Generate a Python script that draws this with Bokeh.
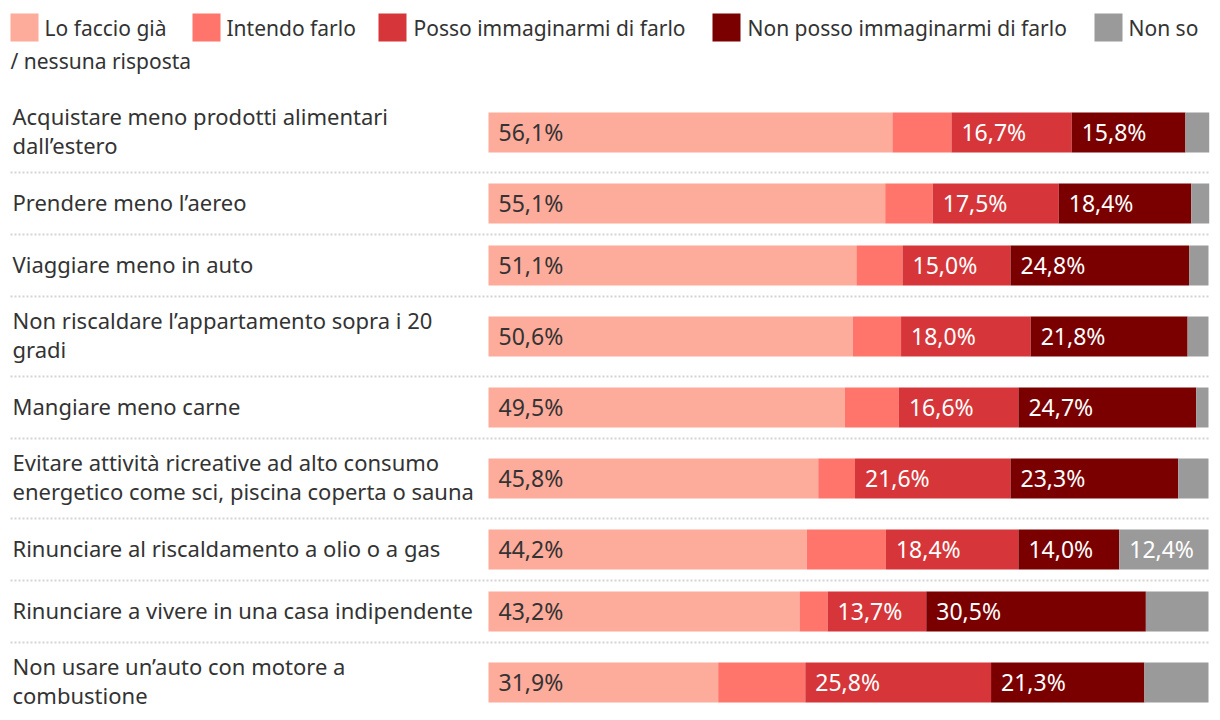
from bokeh.plotting import figure
from bokeh.models import Range1d, ColumnDataSource
from bokeh.core.properties import value
from bokeh.embed import file_html
from bokeh.resources import INLINE

# ---------------- data ----------------
categories = [
    "Acquistare meno prodotti alimentari\ndall\u2019estero",
    "Prendere meno l\u2019aereo",
    "Viaggiare meno in auto",
    "Non riscaldare l\u2019appartamento sopra i 20\ngradi",
    "Mangiare meno carne",
    "Evitare attivit\u00e0 ricreative ad alto consumo\nenergetico come sci, piscina coperta o sauna",
    "Rinunciare al riscaldamento a olio o a gas",
    "Rinunciare a vivere in una casa indipendente",
    "Non usare un\u2019auto con motore a\ncombustione",
]
series_names = ["Lo faccio gi\u00e0", "Intendo farlo", "Posso immaginarmi di farlo",
                "Non posso immaginarmi di farlo", "Non so / nessuna risposta"]
lo_faccio_gia = [56.1, 55.1, 51.1, 50.6, 49.5, 45.8, 44.2, 43.2, 31.9]
intendo_farlo = [8.2, 6.6, 6.4, 6.7, 7.5, 5.1, 11.0, 3.9, 12.1]
posso_immaginarmi = [16.7, 17.5, 15.0, 18.0, 16.6, 21.6, 18.4, 13.7, 25.8]
non_posso_immaginarmi = [15.8, 18.4, 24.8, 21.8, 24.7, 23.3, 14.0, 30.5, 21.3]
non_so = [3.3, 2.5, 2.7, 2.9, 1.7, 4.2, 12.4, 8.7, 8.9]
series_values = [lo_faccio_gia, intendo_farlo, posso_immaginarmi, non_posso_immaginarmi, non_so]

# ---------------- style / layout ----------------
colors = ["#fdab9b", "#ff756b", "#d63639", "#7a0000", "#9a9a9a"]
label_colors = ["#333333", "#ffffff", "#ffffff", "#ffffff", "#ffffff"]
FONT = "Noto Sans"
FS_CAT = "22px"
FS_LEG = "21px"
FS_VAL = "23px"
TEXT = "#333333"
W, H = 1212, 712
BAR_X0 = 488          # px where 0 % sits
PX_PER_PCT = 7.2      # 100 % = 720 px
BAR_H = 40
ROW_1LINE, ROW_2LINE = 62, 80
TOP = 92
LABEL_MIN = 12.2


def px2x(px):
    return (px - BAR_X0) / PX_PER_PCT


# row centres from label line counts
centers, bounds = [], []
y = TOP
for c in categories:
    h = ROW_2LINE if "\n" in c else ROW_1LINE
    centers.append(y + h / 2)
    y += h
    bounds.append(y)
bounds = bounds[:-1]

p = figure(width=W, height=H, x_range=Range1d(px2x(0), px2x(W)),
           y_range=Range1d(H, 0), output_backend="svg", toolbar_location=None,
           x_axis_type=None, y_axis_type=None, min_border=0,
           outline_line_color=None)
p.grid.visible = False
p.background_fill_color = "white"
p.border_fill_color = "white"

# separators
p.segment(x0=[px2x(10)] * len(bounds), x1=[px2x(1208)] * len(bounds),
          y0=bounds, y1=bounds, line_color="#d4d4d4", line_width=2,
          line_dash="2 2")

# stacked bars
left = [0.0] * len(categories)
for i, vals in enumerate(series_values):
    right = [l + v for l, v in zip(left, vals)]
    src = ColumnDataSource(dict(y=centers, left=left, right=right))
    p.hbar(y="y", left="left", right="right", height=BAR_H, source=src,
           fill_color=colors[i], line_color=None)
    lx, ly, lt = [], [], []
    for l, v, cy in zip(left, vals, centers):
        if v >= LABEL_MIN:
            lx.append(l + 10 / PX_PER_PCT)
            ly.append(cy - 1)
            lt.append(f"{v:.1f}%".replace(".", ","))
    p.text(x=lx, y=ly, text=lt, text_font=value(FONT), text_font_size=FS_VAL,
           text_color=label_colors[i], text_baseline="middle", text_align="left")
    left = right

# category labels
p.text(x=[px2x(12)] * len(categories), y=[c - 2 for c in centers], text=categories,
       text_font=value(FONT), text_font_size=FS_CAT, text_color=TEXT,
       text_baseline="middle", text_align="left", text_line_height=0.98)

# legend (manual, wrapping like the original)
leg_sq_px = [10, 192, 378, 712, 1094]
leg_tx_px = [44, 226, 413, 747, 1128]
leg_texts = [series_names[0], series_names[1], series_names[2], series_names[3],
             series_names[4].split(" / ")[0]]
p.quad(left=[px2x(s) for s in leg_sq_px], right=[px2x(s + 28) for s in leg_sq_px],
       top=[13] * 5, bottom=[41] * 5, fill_color=colors, line_color=None)
p.text(x=[px2x(t) for t in leg_tx_px], y=[27] * 5, text=leg_texts,
       text_font=value(FONT), text_font_size=FS_LEG, text_color=TEXT,
       text_baseline="middle", text_align="left")
p.text(x=[px2x(10)], y=[60], text=["/ " + series_names[4].split(" / ")[1]],
       text_font=value(FONT), text_font_size=FS_LEG, text_color=TEXT,
       text_baseline="middle", text_align="left")

open("out.html", "w").write(file_html(p, INLINE))
